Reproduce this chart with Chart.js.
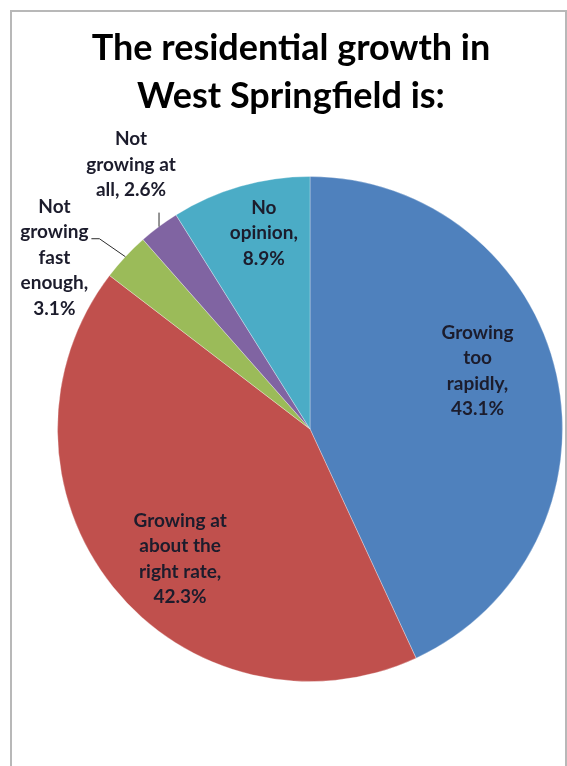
<!DOCTYPE html>
<html>
<head>
<meta charset="utf-8">
<title>Residential growth in West Springfield</title>
<script src="https://cdn.jsdelivr.net/npm/chart.js@4.4.0/dist/chart.umd.min.js"></script>
<style>
  html, body { margin: 0; padding: 0; background: #fff; overflow: hidden; }
  #frame { position: absolute; left: 10px; top: 10px; width: 553px; height: 800px; border: 2px solid #b8b8b8; }
  #wrap { position: absolute; left: 0; top: 0; width: 567px; height: 766px; }
</style>
</head>
<body>
<div id="frame"></div>
<div id="wrap"><canvas id="pie" width="567" height="766"></canvas></div>
<script>
const titleLines = ['The residential growth in', 'West Springfield is:'];
const categories = ['Growing too rapidly', 'Growing at about the right rate', 'Not growing fast enough', 'Not growing at all', 'No opinion'];
const shares = [43.1, 42.3, 3.1, 2.6, 8.9];
// how each category name wraps in its label
const labelLines = [
  ['Growing', 'too', 'rapidly,'],
  ['Growing at', 'about the', 'right rate,'],
  ['Not', 'growing', 'fast', 'enough,'],
  ['Not', 'growing at', 'all,'],
  ['No', 'opinion,']
];
const sliceColors = ['#4f81bd', '#c0504d', '#9bbb59', '#8064a2', '#4bacc6'];

// label placement: r = fraction of radius along the slice middle, dx/dy nudge,
// leader = polyline offsets from the slice edge for outside labels
const labelPlace = [
  { r: 0.72, dx: -10, dy: -19 },
  { r: 0.72, dx: 12, dy: 16 },
  { r: 1, dx: -71, dy: 1, leader: [[0, 0], [-26, -18], [-34, -18]] },
  { r: 1, dx: -28, dy: -62, inline: true, leader: [[0, 0], [0, -14]] },
  { r: 0.72, dx: 4, dy: -21 }
];

const titlePlugin = {
  id: 'slideTitle',
  afterDraw(chart) {
    const c = chart.ctx;
    c.save();
    c.fillStyle = '#000';
    c.font = 'bold 36px Lato';
    c.textAlign = 'center';
    c.textBaseline = 'alphabetic';
    titleLines.forEach((t, i) => c.fillText(t, 291, 60 + i * 48));
    c.restore();
  }
};

const sliceLabels = {
  id: 'sliceLabels',
  afterDatasetsDraw(chart) {
    const c = chart.ctx;
    const meta = chart.getDatasetMeta(0);
    c.save();
    c.font = 'bold 19px Lato';
    c.textAlign = 'center';
    c.textBaseline = 'middle';
    meta.data.forEach((arc, i) => {
      const p = arc.getProps(['x', 'y', 'startAngle', 'endAngle', 'outerRadius'], true);
      const mid = (p.startAngle + p.endAngle) / 2;
      const pl = labelPlace[i];
      const ex = p.x + Math.cos(mid) * p.outerRadius * pl.r;
      const ey = p.y + Math.sin(mid) * p.outerRadius * pl.r;
      const value = shares[i].toFixed(1) + '%';
      const lines = labelLines[i].slice();
      if (pl.inline) lines[lines.length - 1] += ' ' + value;
      else lines.push(value);

      if (pl.leader) {
        c.strokeStyle = '#2b2b2b';
        c.lineWidth = 1;
        c.beginPath();
        pl.leader.forEach(([ox, oy], k) => {
          if (k === 0) c.moveTo(ex + ox, ey + oy);
          else c.lineTo(ex + ox, ey + oy);
        });
        c.stroke();
      }

      const lh = 25.5;
      const cx = ex + pl.dx;
      const cy = ey + pl.dy;
      c.fillStyle = '#1c1c2c';
      lines.forEach((t, k) => {
        c.fillText(t, cx, cy + (k - (lines.length - 1) / 2) * lh);
      });
    });
    c.restore();
  }
};

new Chart(document.getElementById('pie'), {
  type: 'pie',
  data: {
    labels: categories,
    datasets: [{
      data: shares,
      backgroundColor: sliceColors,
      borderColor: 'rgba(255,255,255,0.3)',
      borderWidth: 1,
      hoverOffset: 0
    }]
  },
  options: {
    responsive: false,
    animation: false,
    layout: { padding: { left: 57, right: 4, top: 176, bottom: 84 } },
    plugins: {
      legend: { display: false },
      tooltip: { enabled: false },
      title: { display: false }
    }
  },
  plugins: [sliceLabels, titlePlugin]
});
</script>
</body>
</html>
